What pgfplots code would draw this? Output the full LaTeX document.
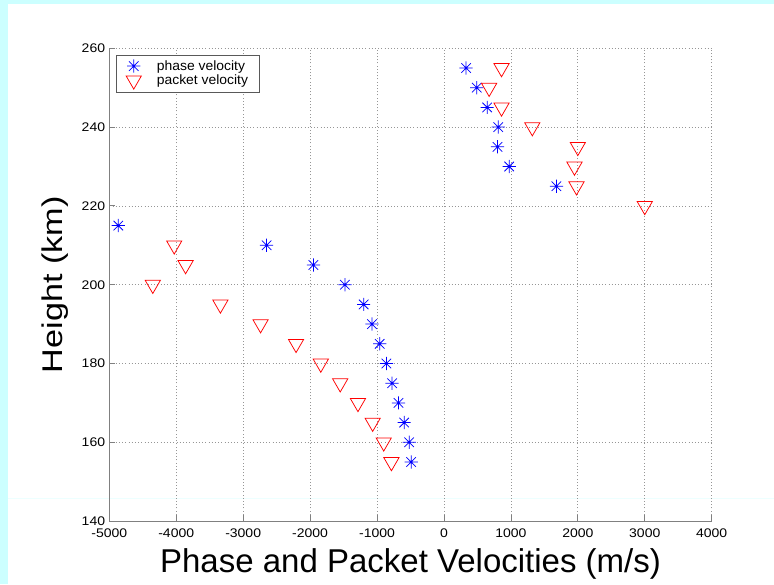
\documentclass[border=0pt]{standalone}
\usepackage{fontspec}
\setmainfont{Liberation Sans}
\newfontfamily\tickfont[FakeStretch=1.12]{Liberation Sans}
\newfontfamily\legfont[FakeStretch=1.03]{Liberation Sans}
\newfontfamily\ylabfont[FakeStretch=1.2]{Liberation Sans}
\usepackage{pgfplots}
\pgfplotsset{compat=1.18}
\usepackage{pgfplotstable}
\definecolor{bgcyan}{RGB}{204,255,255}
\definecolor{axgray}{RGB}{128,128,128}
\definecolor{gridgray}{RGB}{150,150,150}

\pgfdeclareplotmark{mstar}{%
 \pgfpathmoveto{\pgfqpoint{0pt}{\pgfplotmarksize}}\pgfpathlineto{\pgfqpoint{0pt}{-\pgfplotmarksize}}%
 \pgfpathmoveto{\pgfqpoint{\pgfplotmarksize}{0pt}}\pgfpathlineto{\pgfqpoint{-\pgfplotmarksize}{0pt}}%
 \pgfpathmoveto{\pgfqpoint{.72\pgfplotmarksize}{.72\pgfplotmarksize}}\pgfpathlineto{\pgfqpoint{-.72\pgfplotmarksize}{-.72\pgfplotmarksize}}%
 \pgfpathmoveto{\pgfqpoint{-.72\pgfplotmarksize}{.72\pgfplotmarksize}}\pgfpathlineto{\pgfqpoint{.72\pgfplotmarksize}{-.72\pgfplotmarksize}}%
 \pgfusepathqstroke}
\pgfdeclareplotmark{vtri}{%
 \pgfpathmoveto{\pgfqpointpolar{-90}{\pgfplotmarksize}}%
 \pgfpathlineto{\pgfqpointpolar{30}{\pgfplotmarksize}}%
 \pgfpathlineto{\pgfqpointpolar{150}{\pgfplotmarksize}}%
 \pgfpathclose\pgfusepathqstroke}

\pgfplotstableread{
x y
330 255
490 250
645 245
810 240
800 235
975 230
1680 225
-4865 215
-2650 210
-1950 205
-1480 200
-1200 195
-1075 190
-960 185
-860 180
-775 175
-680 170
-595 165
-520 160
-490 155
}\phase

\pgfplotstableread{
x y
860 255
675 250
860 245
1320 240
2000 235
1950 230
1980 225
3000 220
-4030 210
-3860 205
-4350 200
-3340 195
-2740 190
-2210 185
-1840 180
-1550 175
-1285 170
-1065 165
-900 160
-785 155
}\packet

\begin{document}
\begin{tikzpicture}[x=1pt,y=1pt]
\fill[bgcyan] (0,0) rectangle (774,584);
\fill[white] (8,0) rectangle (774,579.5);
\draw[bgcyan!35,line width=0.6pt] (8,86) -- (774,86);
\begin{axis}[
  at={(109.3pt,62.9pt)}, anchor=south west,
  width=602.4pt, height=472.8pt, scale only axis,
  xmin=-5000, xmax=4000, ymin=140, ymax=260,
  axis lines*=left,
  axis line style={axgray, line width=1pt},
  xtick={-5000,-4000,...,4000},
  ytick={140,160,...,260},
  xticklabels={-5000,-4000,-3000,-2000,-1000,0,1000,2000,3000,4000},
  yticklabels={140,160,180,200,220,240,260},
  tick style={axgray, line width=0.8pt},
  tick align=inside,
  major tick length=6pt,
  grid=major,
  major grid style={gridgray, line width=0.7pt, dash pattern=on 1pt off 2.2pt},
  xticklabel style={font=\tickfont\fontsize{12.5}{14}\selectfont, inner sep=1pt, yshift=-6pt},
  yticklabel style={font=\tickfont\fontsize{12.5}{14}\selectfont, inner sep=1pt, xshift=-3pt},
  xlabel={Phase and Packet Velocities (m/s)},
  ylabel={Height (km)},
  xlabel style={font=\fontsize{33}{38}\selectfont, at={(axis description cs:0.5,-0.109)}, anchor=base},
  ylabel style={font=\ylabfont\fontsize{28.5}{34}\selectfont, at={(axis description cs:-0.0769,0.5)}, anchor=base},
  legend style={at={(axis description cs:0.0115,0.9858)}, anchor=north west,
    draw=black!65, fill=white, font=\legfont\fontsize{13.5}{16}\selectfont,
    inner xsep=9.5pt, inner ysep=3pt, row sep=-1pt, line width=0.8pt,
    /tikz/every odd column/.append style={column sep=13.5pt}},
  legend cell align=left,
  clip=false,
]
\addplot[only marks, mark=mstar, mark size=6.6pt, draw=blue, line width=0.75pt] table[x=x,y=y] {\phase};
\addlegendentry{phase velocity}
\addplot[only marks, mark=vtri, mark size=8.8pt, draw=red, line width=0.75pt] table[x=x,y=y] {\packet};
\addlegendentry{packet velocity}
\end{axis}
\pgfresetboundingbox
\useasboundingbox (0,0) rectangle (774,584);
\end{tikzpicture}
\end{document}
